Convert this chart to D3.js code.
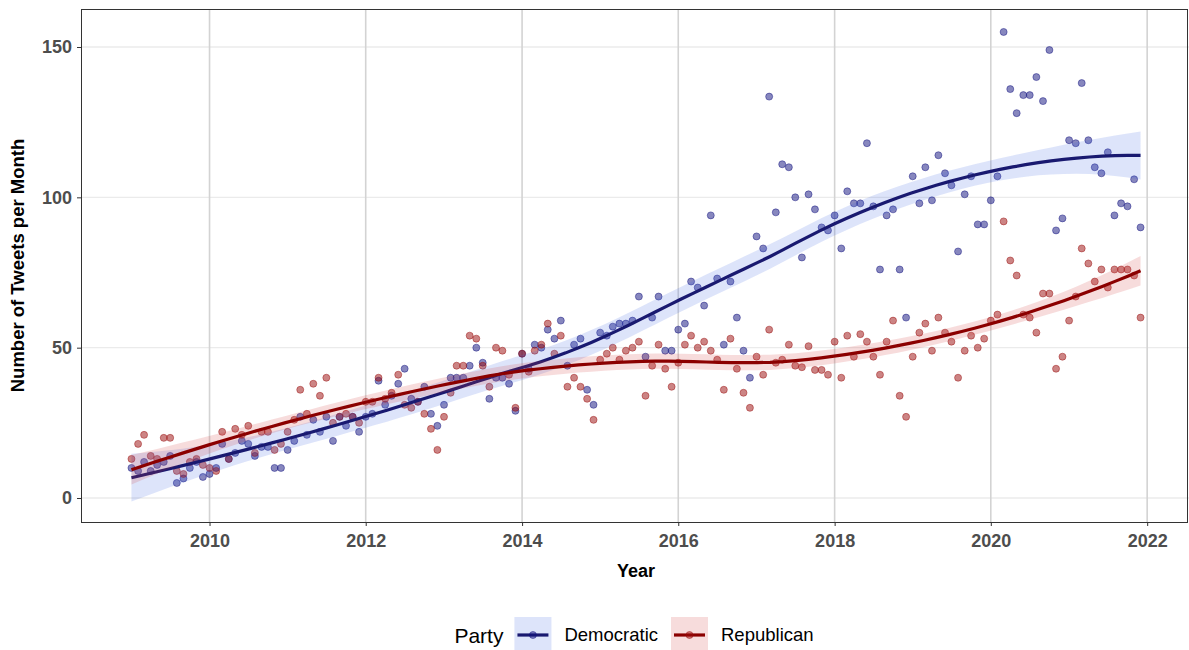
<!DOCTYPE html>
<html>
<head>
<meta charset="utf-8">
<script src="https://cdn.jsdelivr.net/npm/d3@7"></script>
<style>
  body { margin: 0; background: #ffffff; }
  svg { display: block; font-family: "Liberation Sans", Arial, sans-serif; }
</style>
</head>
<body>
<svg id="chart" width="1189" height="650"></svg>
<script>
// Monthly tweet counts, January 2009 to December 2021
const startYear = 2009;
const democratic = [
  10, 9, 12, 9, 11, 12, 14, 5, 6.5, 10, 12, 7,
  8, 10, 18, 13, 15, 19, 18, 14, 17, 17, 10, 10,
  16, 19, 27, 21, 26, 22, 27, 19, 27, 24, 27, 22,
  27, 28, 39, 31, 34, 38, 43, 33, 32, 37, 28, 24,
  31, 40, 40, 40, 44, 50, 45, 33, 40, 40, 38, 29,
  48, 43, 51, 50, 56, 53, 59, 44, 51, 53, 36, 31,
  55, 54, 57, 58, 58, 59, 67, 47, 60, 67, 49, 49,
  56, 58, 72, 70, 64, 94, 73, 51, 72, 60, 49, 40,
  87, 83, 133.5, 95, 111, 110, 100, 80, 101, 96, 90, 89,
  94, 83, 102, 98, 98, 118, 97, 76, 94, 96, 76, 60,
  107, 98, 110, 99, 114, 108, 104, 82, 101, 107, 91, 91,
  99, 107, 155, 136, 128, 134, 134, 140, 132, 149, 89, 93,
  119, 118, 138, 119, 110, 108, 115, 94, 98, 97, 106, 90
];
const republican = [
  13, 18, 21, 14, 13, 20, 20, 9, 8, 12, 13, 11,
  10, 9, 22, 13, 23, 21, 24, 15, 22, 22, 16, 18,
  22, 26, 36, 28, 38, 34, 40, 25, 27, 28, 27, 25,
  32, 32, 40, 33, 35, 41, 31, 30, 32, 28, 23, 16,
  27, 35, 44, 44, 54, 53, 44, 37, 50, 49, 41, 30,
  48, 42, 49, 51, 58, 48, 54, 37, 40, 37, 33, 26,
  46, 48, 50, 46, 49, 50, 52, 34, 44, 51, 43, 37,
  45, 51, 54, 50, 52, 49, 46, 36, 53, 43, 35, 30,
  47, 41, 56, 45, 46, 51, 44, 43.5, 50.5, 42.6, 42.6, 41,
  52, 40, 54, 47, 54.5, 52, 47, 41, 52, 59, 34, 27,
  47, 55, 58, 49, 60, 55, 52, 40, 49, 54, 50, 53,
  59, 61, 92, 79, 74, 61, 60, 55, 68, 68, 43, 47,
  59, 67, 83, 78, 72, 76, 70, 76, 76, 76, 74, 60
];
const parties = ["Democratic", "Republican"];
const xTickYears = [2010, 2012, 2014, 2016, 2018, 2020, 2022];
const yTicks = [0, 50, 100, 150];

const partyStyle = {
  Democratic: { line: "#191970", point: "#10107e", band: "#4169e1" },
  Republican: { line: "#8b0000", point: "#9a0a0a", band: "#d23c3c" }
};

const svg = d3.select("#chart");
const panel = { left: 81, top: 9, right: 1191, bottom: 522 };

// ---- data in long form --------------------------------------------------
const months = democratic.map((_, i) => new Date(Date.UTC(startYear, i, 1)));
const series = {
  Democratic: months.map((d, i) => ({ date: d, value: democratic[i] })),
  Republican: months.map((d, i) => ({ date: d, value: republican[i] }))
};

// ---- scales ---------------------------------------------------------------
const t0 = +months[0], t1 = +months[months.length - 1];
const pad = (t1 - t0) * 0.05;
const x = d3.scaleUtc()
  .domain([new Date(t0 - pad), new Date(t1 + pad)])
  .range([panel.left, panel.right]);
const y = d3.scaleLinear()
  .domain([-7.98, 162.64])
  .range([panel.bottom, panel.top]);

// ---- loess smoother (degree 2, span 0.75) with 95% confidence band --------
const yearOf = d => (+d - t0) / (365.25 * 864e5);

function loessSmooth(xs, ys, evalXs, span) {
  const n = xs.length;
  const q = Math.floor(n * span);
  function operatorRow(x0) {
    const dist = xs.map(v => Math.abs(v - x0));
    const h = dist.slice().sort((a, b) => a - b)[q - 1] * 1.0000001;
    const w = dist.map(d => { const u = d / h; return u < 1 ? Math.pow(1 - u * u * u, 3) : 0; });
    const s = [[0, 0, 0], [0, 0, 0], [0, 0, 0]];
    for (let i = 0; i < n; i++) {
      if (!w[i]) continue;
      const t = xs[i] - x0, v = [1, t, t * t];
      for (let a = 0; a < 3; a++) for (let b = 0; b < 3; b++) s[a][b] += w[i] * v[a] * v[b];
    }
    const [a, b, c] = s[0], [d, e, f] = s[1], [g, hh, k] = s[2];
    const A = e * k - f * hh, B = -(d * k - f * g), C = d * hh - e * g;
    const det = a * A + b * B + c * C;
    return xs.map((v, i) => { const t = v - x0; return w[i] * (A + B * t + C * t * t) / det; });
  }
  // operator matrix at the observations
  const L = xs.map(operatorRow);
  const IL = L.map((row, i) => row.map((v, j) => (i === j ? 1 : 0) - v));
  let rss = 0, delta1 = 0;
  for (let i = 0; i < n; i++) {
    let r = 0;
    for (let j = 0; j < n; j++) { r += IL[i][j] * ys[j]; delta1 += IL[i][j] * IL[i][j]; }
    rss += r * r;
  }
  let delta2 = 0;
  for (let a = 0; a < n; a++) {
    for (let b = 0; b < n; b++) {
      let m = 0;
      for (let i = 0; i < n; i++) m += IL[i][a] * IL[i][b];
      delta2 += m * m;
    }
  }
  const sigma = Math.sqrt(rss / delta1);
  const df = delta1 * delta1 / delta2;
  const z = 1.959964;
  const tq = z + (z ** 3 + z) / (4 * df) + (5 * z ** 5 + 16 * z ** 3 + 3 * z) / (96 * df * df);
  return evalXs.map(x0 => {
    const l = operatorRow(x0);
    const fit = d3.sum(l, (v, i) => v * ys[i]);
    const se = sigma * Math.sqrt(d3.sum(l, v => v * v));
    return { x0, fit, lo: fit - tq * se, hi: fit + tq * se };
  });
}

const evalYears = d3.range(80).map(i => yearOf(t0) + i * (yearOf(t1) - yearOf(t0)) / 79);
const smooths = {};
parties.forEach(p => {
  const xs = series[p].map(d => yearOf(d.date));
  const ys = series[p].map(d => d.value);
  smooths[p] = loessSmooth(xs, ys, evalYears, 0.75)
    .map(s => ({ date: new Date(t0 + s.x0 * 365.25 * 864e5), fit: s.fit, lo: s.lo, hi: s.hi }));
});

// ---- panel --------------------------------------------------------------
svg.append("defs").append("clipPath").attr("id", "panel-clip")
  .append("rect")
  .attr("x", panel.left).attr("y", panel.top)
  .attr("width", panel.right - panel.left).attr("height", panel.bottom - panel.top);

const xTickDates = xTickYears.map(yr => new Date(Date.UTC(yr, 0, 1)));

const grid = svg.append("g");
grid.selectAll("line.h").data(yTicks).join("line")
  .attr("x1", panel.left).attr("x2", panel.right)
  .attr("y1", d => y(d)).attr("y2", d => y(d))
  .attr("stroke", "#ebebeb").attr("stroke-width", 1.4);
grid.selectAll("line.v").data(xTickDates).join("line")
  .attr("x1", d => x(d)).attr("x2", d => x(d))
  .attr("y1", panel.top).attr("y2", panel.bottom)
  .attr("stroke", "#d3d3d3").attr("stroke-width", 1.6);

const plot = svg.append("g").attr("clip-path", "url(#panel-clip)");

// points
parties.forEach(p => {
  const st = partyStyle[p];
  plot.append("g").selectAll("circle").data(series[p]).join("circle")
    .attr("cx", d => x(d.date))
    .attr("cy", d => y(d.value))
    .attr("r", 3.5)
    .attr("fill", st.point).attr("fill-opacity", 0.5)
    .attr("stroke", st.point).attr("stroke-opacity", 0.45).attr("stroke-width", 1);
});

// smoothed trend with confidence band, one party at a time
const band = d3.area().x(d => x(d.date)).y0(d => y(d.lo)).y1(d => y(d.hi)).curve(d3.curveLinear);
const trend = d3.line().x(d => x(d.date)).y(d => y(d.fit)).curve(d3.curveLinear);
parties.forEach(p => {
  const st = partyStyle[p];
  plot.append("path").datum(smooths[p]).attr("d", band)
    .attr("fill", st.band).attr("fill-opacity", 0.18);
  plot.append("path").datum(smooths[p]).attr("d", trend)
    .attr("fill", "none").attr("stroke", st.line).attr("stroke-width", 3.2)
    .attr("stroke-linejoin", "round").attr("stroke-linecap", "butt");
});

// panel border
svg.append("rect")
  .attr("x", panel.left + 0.5).attr("y", panel.top + 0.5)
  .attr("width", 1187.5 - panel.left - 0.5).attr("height", panel.bottom - panel.top)
  .attr("fill", "none").attr("stroke", "#333333").attr("stroke-width", 1);

// ---- axes ---------------------------------------------------------------
const xAxis = svg.append("g").attr("transform", `translate(0,${panel.bottom})`)
  .call(d3.axisBottom(x).tickValues(xTickDates).tickFormat(d3.utcFormat("%Y"))
    .tickSize(4).tickPadding(8));
const yAxis = svg.append("g").attr("transform", `translate(${panel.left},0)`)
  .call(d3.axisLeft(y).tickValues(yTicks).tickSize(4).tickPadding(5));
[xAxis, yAxis].forEach(ax => {
  ax.select(".domain").remove();
  ax.selectAll(".tick line").attr("stroke", "#333333").attr("stroke-width", 1);
  ax.selectAll(".tick text")
    .attr("fill", "#4d4d4d").attr("font-size", 18).attr("font-weight", "bold")
    .attr("font-family", "'Liberation Sans', Arial, sans-serif");
});

svg.append("text")
  .attr("x", (panel.left + panel.right) / 2).attr("y", 577)
  .attr("text-anchor", "middle").attr("font-size", 18).attr("font-weight", "bold")
  .attr("fill", "#000").text("Year");
svg.append("text")
  .attr("transform", `translate(24,${(panel.top + panel.bottom) / 2}) rotate(-90)`)
  .attr("text-anchor", "middle").attr("font-size", 18.5).attr("font-weight", "bold")
  .attr("fill", "#000").text("Number of Tweets per Month");

// ---- legend -------------------------------------------------------------
const legend = svg.append("g");
const legendMidY = 635;
const title = legend.append("text").attr("y", legendMidY + 7.5)
  .attr("font-size", 21).attr("fill", "#000").text("Party");
const keyW = 37, keyH = 36;
const items = parties.map(p => {
  const g = legend.append("g");
  g.append("rect").attr("width", keyW).attr("height", keyH).attr("y", legendMidY - keyH / 2)
    .attr("fill", partyStyle[p].band).attr("fill-opacity", 0.18);
  g.append("line").attr("x1", 3).attr("x2", keyW - 3)
    .attr("y1", legendMidY).attr("y2", legendMidY)
    .attr("stroke", partyStyle[p].line).attr("stroke-width", 3.2);
  g.append("circle").attr("cx", keyW / 2).attr("cy", legendMidY).attr("r", 3.5)
    .attr("fill", partyStyle[p].point).attr("fill-opacity", 0.5)
    .attr("stroke", partyStyle[p].point).attr("stroke-opacity", 0.45);
  const label = g.append("text").attr("x", keyW + 13).attr("y", legendMidY + 6.3)
    .attr("font-size", 18.5).attr("fill", "#000").text(p);
  return { g, width: keyW + 13 + label.node().getComputedTextLength() };
});
const titleW = title.node().getComputedTextLength();
const gapAfterTitle = 11, gapBetween = 13;
const totalW = titleW + gapAfterTitle + d3.sum(items, d => d.width) + gapBetween * (items.length - 1);
let cursor = (panel.left + panel.right) / 2 - totalW / 2 - 2;
title.attr("x", cursor);
cursor += titleW + gapAfterTitle;
items.forEach(it => { it.g.attr("transform", `translate(${cursor},0)`); cursor += it.width + gapBetween; });
</script>
</body>
</html>
